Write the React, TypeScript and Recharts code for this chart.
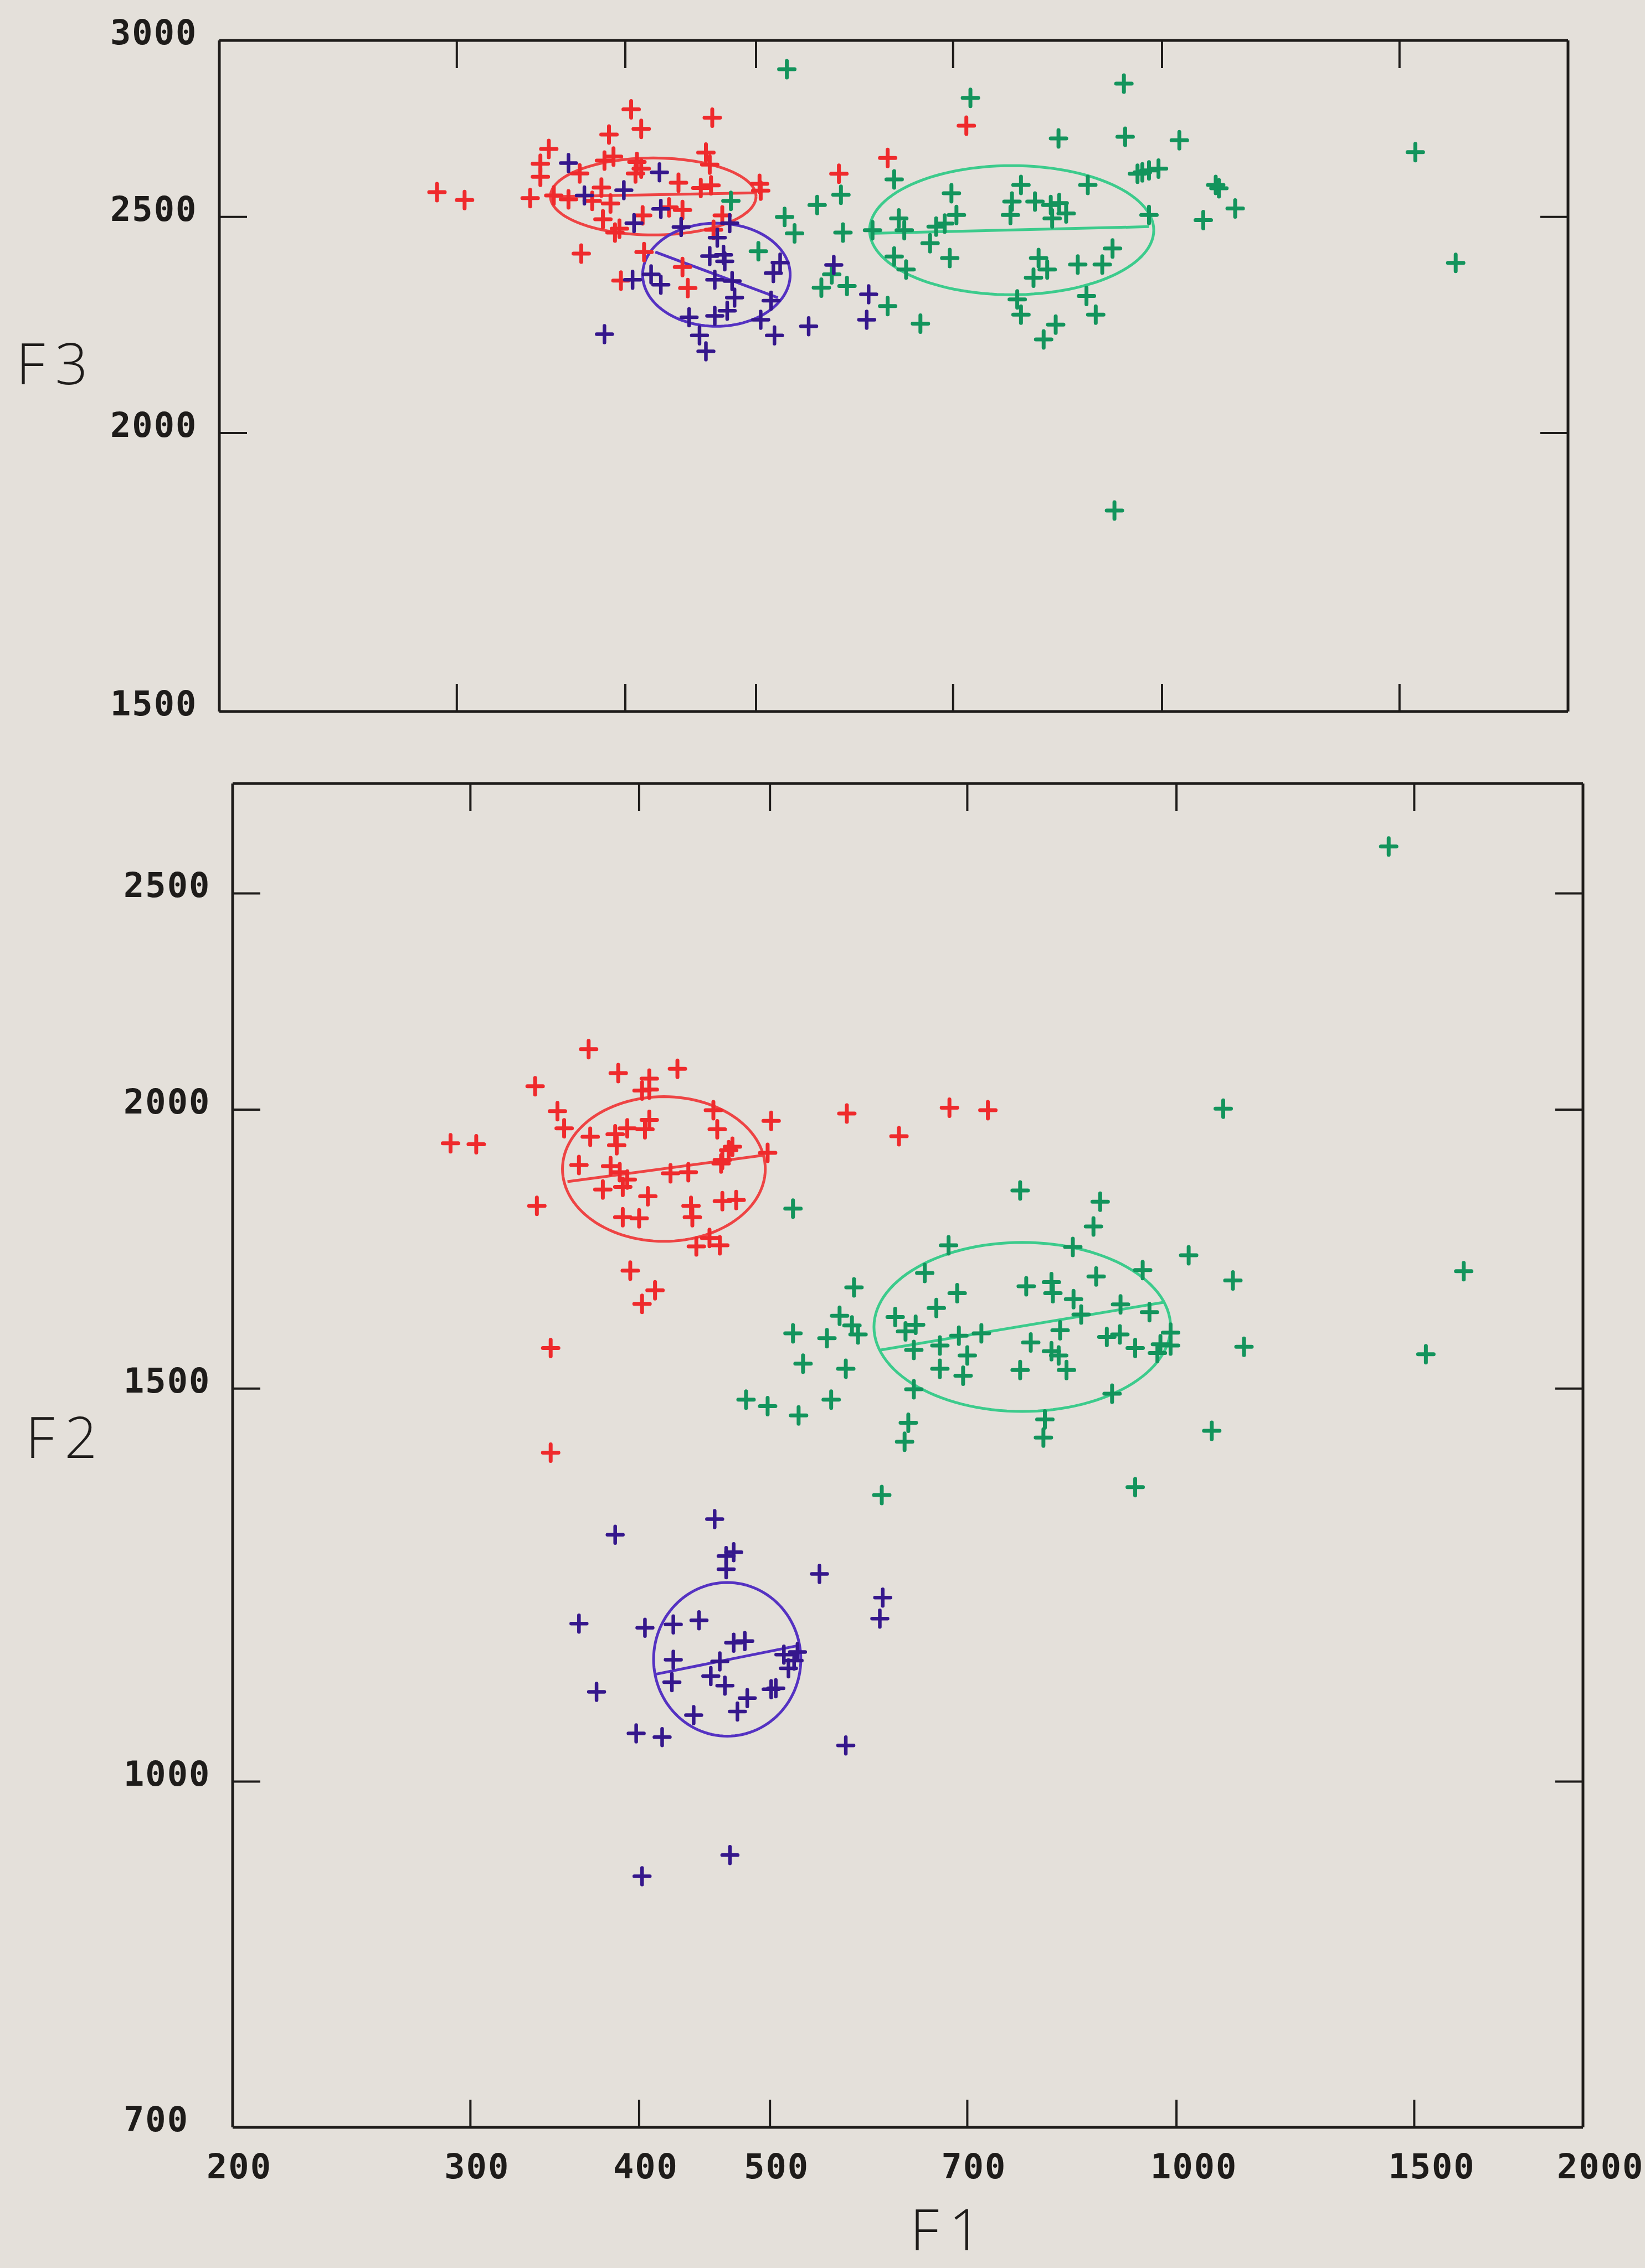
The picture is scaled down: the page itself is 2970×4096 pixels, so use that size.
import React from 'react'
import { ScatterChart, Scatter, XAxis, YAxis } from 'recharts'

type Pair = [number, number]

// F1 axis (shared by both panels)
const f1Domain: [number, number] = [200, 2000]
const f1Ticks = [200, 300, 400, 500, 700, 1000, 1500, 2000]

// top panel: F3
const f3Domain: [number, number] = [1500, 3000]
const f3Ticks = [1500, 2000, 2500, 3000]

// bottom panel: F2
const f2Domain: [number, number] = [700, 2800]
const f2Ticks = [700, 1000, 1500, 2000, 2500]

// [F1, F3]
const topRed: Pair[] = [
  [290, 2565], [304, 2544], [404, 2794], [411, 2738], [464, 2770], [389, 2722], [351, 2682], [346, 2641],
  [346, 2606], [340, 2549], [354, 2556], [363, 2546], [370, 2615], [386, 2650], [392, 2661], [408, 2646],
  [411, 2628], [407, 2615], [384, 2577], [378, 2542], [390, 2535], [385, 2494], [396, 2470], [393, 2460],
  [412, 2504], [431, 2525], [441, 2518], [438, 2590], [455, 2576], [463, 2583], [459, 2672], [462, 2639],
  [503, 2587], [504, 2569], [472, 2504], [371, 2407], [413, 2411], [397, 2341], [441, 2374], [445, 2323],
  [576, 2614], [626, 2657], [716, 2747], [465, 2467],
]
const topBlue: Pair[] = [
  [363, 2643], [424, 2618], [399, 2570], [373, 2556], [425, 2521], [406, 2484], [440, 2474], [478, 2484],
  [468, 2447], [462, 2401], [473, 2404], [474, 2388], [418, 2356], [425, 2331], [405, 2343], [466, 2343],
  [480, 2340], [521, 2385], [515, 2359], [482, 2300], [476, 2269], [513, 2293], [466, 2257], [446, 2254],
  [504, 2248], [454, 2212], [459, 2176], [516, 2212], [547, 2233], [386, 2215], [606, 2308], [604, 2248],
  [571, 2379],
]
const topGreen: Pair[] = [
  [527, 2912], [721, 2827], [937, 2869], [838, 2711], [939, 2716], [1030, 2706], [633, 2599], [578, 2558],
  [555, 2531], [525, 2500], [534, 2458], [580, 2460], [610, 2466], [638, 2496], [644, 2466], [680, 2475],
  [690, 2483], [704, 2505], [698, 2562], [673, 2433], [696, 2396], [633, 2400], [646, 2368], [569, 2356],
  [559, 2324], [584, 2328], [626, 2280], [662, 2239], [786, 2584], [774, 2540], [772, 2505], [805, 2540],
  [827, 2531], [849, 2509], [829, 2496], [881, 2584], [978, 2505], [959, 2614], [994, 2628], [1102, 2575],
  [1133, 2522], [1073, 2492], [810, 2396], [822, 2368], [803, 2348], [866, 2380], [903, 2380], [919, 2420],
  [781, 2296], [786, 2260], [879, 2304], [893, 2260], [834, 2237], [817, 2203], [922, 1846], [967, 2618],
  [1096, 2584], [479, 2542], [502, 2413], [1541, 2673], [1651, 2384], [978, 2623], [839, 2536],
]

// [F1, F2]
const botRed: Pair[] = [
  [367, 2129], [386, 2077], [427, 2086], [335, 2049], [407, 2065], [402, 2040], [407, 2042], [348, 1997],
  [352, 1962], [368, 1945], [384, 1950], [385, 1928], [392, 1962], [404, 1960], [407, 1979], [454, 1999],
  [457, 1960], [501, 1977], [466, 1918], [498, 1913], [460, 1892], [361, 1889], [381, 1887], [387, 1875],
  [392, 1861], [389, 1847], [376, 1842], [422, 1873], [435, 1875], [406, 1829], [437, 1811], [438, 1790],
  [461, 1820], [472, 1822], [389, 1790], [400, 1788], [441, 1737], [451, 1752], [459, 1739], [336, 1811],
  [394, 1694], [411, 1660], [402, 1637], [344, 1564], [570, 1992], [469, 1925], [461, 1899], [623, 1946],
  [679, 2004], [725, 1999], [290, 1932], [303, 1930], [344, 1404],
]
const botBlue: Pair[] = [
  [455, 1311], [384, 1290], [470, 1267], [464, 1262], [464, 1245], [544, 1239], [606, 1209], [603, 1183],
  [361, 1177], [404, 1172], [424, 1176], [443, 1181], [470, 1154], [479, 1156], [424, 1134], [459, 1132],
  [512, 1140], [521, 1133], [516, 1124], [423, 1108], [452, 1115], [463, 1104], [501, 1100], [481, 1090],
  [473, 1075], [439, 1071], [372, 1097], [398, 1051], [416, 1047], [569, 1038], [467, 927], [402, 907],
  [524, 1143], [505, 1101],
]
const botGreen: Pair[] = [
  [766, 1840], [878, 1819], [868, 1773], [520, 1806], [678, 1739], [838, 1736], [1021, 1721], [944, 1695],
  [1101, 1677], [651, 1690], [872, 1684], [577, 1665], [774, 1667], [808, 1674], [810, 1655], [688, 1655],
  [839, 1645], [664, 1630], [909, 1636], [850, 1619], [955, 1623], [619, 1615], [563, 1617], [575, 1601],
  [581, 1586], [630, 1591], [641, 1602], [690, 1584], [717, 1588], [820, 1593], [990, 1589], [888, 1582],
  [908, 1586], [520, 1588], [551, 1580], [639, 1561], [668, 1568], [780, 1573], [973, 1570], [932, 1564],
  [990, 1568], [808, 1559], [818, 1552], [968, 1556], [700, 1552], [529, 1539], [569, 1531], [668, 1531],
  [695, 1520], [766, 1529], [829, 1529], [1122, 1566], [639, 1499], [896, 1492], [480, 1483], [498, 1473],
  [555, 1483], [525, 1459], [633, 1448], [629, 1420], [799, 1453], [797, 1426], [1062, 1436], [932, 1355],
  [605, 1344], [1083, 2002], [1436, 2624], [1632, 1693], [1530, 1554],
]

// ellipse extents: [F1 min, F1 max], [Fy min, Fy max]
const topRedEllipse = { f1: [352, 500], fy: [2454, 2657] }
const topBlueEllipse = { f1: [412, 530], fy: [2233, 2484] }
const topGreenEllipse = { f1: [607, 986], fy: [2307, 2636] }
const botRedEllipse = { f1: [351, 496], fy: [1746, 2027] }
const botBlueEllipse = { f1: [410, 527], fy: [1048, 1228] }
const botGreenEllipse = { f1: [597, 990], fy: [1465, 1744] }

// diameter drawn across each ellipse
const topRedAxis: Pair[] = [[352, 2553], [500, 2563]]
const topBlueAxis: Pair[] = [[421, 2411], [519, 2300]]
const topGreenAxis: Pair[] = [[607, 2458], [978, 2475]]
const botRedAxis: Pair[] = [[354, 1857], [494, 1908]]
const botBlueAxis: Pair[] = [[411, 1117], [526, 1151]]
const botGreenAxis: Pair[] = [[604, 1561], [981, 1640]]

const PAPER = '#e4e0da'
const INK = '#1e1c1a'
const RED = '#ef2a2c'
const BLUE = '#35178c'
const GREEN = '#13945c'
const RED_E = '#ee4444'
const BLUE_E = '#5532c2'
const GREEN_E = '#3ccb8c'
const TICK_LEN = 50

const labelStyle: React.CSSProperties = {
  fontFamily: "'DejaVu Sans Mono', monospace",
  fontWeight: 700,
  fontSize: 62,
  letterSpacing: 2,
  fill: INK,
}
const titleStyle: React.CSSProperties = {
  fontFamily: "'Open Sans', 'DejaVu Sans', sans-serif",
  fontWeight: 300,
  fontSize: 104,
  letterSpacing: 18,
  fill: INK,
}

const toPts = (arr: Pair[]) => arr.map(([x, y]) => ({ x, y }))

// outline of an ellipse in log-log space, from its extents
function outline(e: { f1: number[]; fy: number[] }) {
  const a0 = Math.log10(e.f1[0]), a1 = Math.log10(e.f1[1])
  const b0 = Math.log10(e.fy[0]), b1 = Math.log10(e.fy[1])
  const pts = []
  for (let i = 0; i <= 120; i++) {
    const t = (i / 120) * Math.PI * 2
    pts.push({
      x: Math.pow(10, (a0 + a1) / 2 + ((a1 - a0) / 2) * Math.cos(t)),
      y: Math.pow(10, (b0 + b1) / 2 + ((b1 - b0) / 2) * Math.sin(t)),
    })
  }
  return pts
}

const cross = (color: string, w: number) => (p: any) => {
  const { cx, cy } = p
  if (cx == null || cy == null) return <g />
  return (
    <path
      d={`M${cx - 14},${cy}H${cx + 14}M${cx},${cy - 15}V${cy + 15}`}
      stroke={color}
      strokeWidth={w}
      strokeLinecap="round"
      fill="none"
    />
  )
}
const noDot = () => <g />

const isInner = (v: number, d: [number, number]) => v > d[0] && v < d[1]

const xTick = (side: 'top' | 'bottom', labels: boolean) => (p: any) => {
  const { x, y, payload } = p
  const v = payload.value
  const dir = side === 'bottom' ? -1 : 1
  return (
    <g>
      {isInner(v, f1Domain) && (
        <line x1={x} x2={x} y1={y} y2={y + dir * TICK_LEN} stroke={INK} strokeWidth={4} />
      )}
      {labels && (
        <text x={x - 47} y={y + 92} style={labelStyle}>
          {v}
        </text>
      )}
    </g>
  )
}

const yTick = (side: 'left' | 'right', domain: [number, number]) => (p: any) => {
  const { x, y, payload } = p
  const v = payload.value
  const dir = side === 'left' ? 1 : -1
  return (
    <g>
      {isInner(v, domain) && (
        <line x1={x} x2={x + dir * TICK_LEN} y1={y} y2={y} stroke={INK} strokeWidth={4} />
      )}
      {side === 'left' && (
        <text x={x - 197} y={y + 7} style={labelStyle}>
          {v}
        </text>
      )}
    </g>
  )
}

const title = (text: string, dx: number, dy: number) => (p: any) => {
  const vb = p.viewBox || { x: 0, y: 0 }
  return (
    <text x={vb.x + dx} y={vb.y + dy} style={titleStyle}>
      {text}
    </text>
  )
}

interface EllipseSpec {
  shape: { f1: number[]; fy: number[] }
  axis: Pair[]
  color: string
}

interface PanelProps {
  height: number
  band: { top: number; bottom: number; left: number; right: number }
  yDomain: [number, number]
  yTicks: number[]
  red: Pair[]
  blue: Pair[]
  green: Pair[]
  ellipses: EllipseSpec[]
  xLabels: boolean
  yTitle: { text: string; dx: number; dy: number }
  xTitle?: { text: string; dx: number; dy: number }
}

function Panel({ height, band, yDomain, yTicks, red, blue, green, ellipses, xLabels, yTitle, xTitle }: PanelProps) {
  const axisLine = { stroke: INK, strokeWidth: 5 }
  return (
    <ScatterChart width={2970} height={height} margin={{ top: 0, right: 0, bottom: 0, left: 0 }}>
      <XAxis
        xAxisId="b"
        dataKey="x"
        type="number"
        scale="log"
        domain={f1Domain}
        ticks={f1Ticks}
        allowDataOverflow
        interval={0}
        orientation="bottom"
        height={band.bottom}
        tickSize={0}
        tickMargin={0}
        tickLine={false}
        axisLine={axisLine}
        tick={xTick('bottom', xLabels)}
        label={xTitle ? { content: title(xTitle.text, xTitle.dx, xTitle.dy) } : undefined}
      />
      <XAxis
        xAxisId="t"
        dataKey="x"
        type="number"
        scale="log"
        domain={f1Domain}
        ticks={f1Ticks}
        allowDataOverflow
        interval={0}
        orientation="top"
        height={band.top}
        tickSize={0}
        tickMargin={0}
        tickLine={false}
        axisLine={axisLine}
        tick={xTick('top', false)}
      />
      <YAxis
        yAxisId="l"
        dataKey="y"
        type="number"
        scale="log"
        domain={yDomain}
        ticks={yTicks}
        allowDataOverflow
        interval={0}
        orientation="left"
        width={band.left}
        tickSize={0}
        tickMargin={0}
        tickLine={false}
        axisLine={axisLine}
        tick={yTick('left', yDomain)}
        label={{ content: title(yTitle.text, yTitle.dx, yTitle.dy) }}
      />
      <YAxis
        yAxisId="r"
        dataKey="y"
        type="number"
        scale="log"
        domain={yDomain}
        ticks={yTicks}
        allowDataOverflow
        interval={0}
        orientation="right"
        width={band.right}
        tickSize={0}
        tickMargin={0}
        tickLine={false}
        axisLine={axisLine}
        tick={yTick('right', yDomain)}
      />
      {/* keeps the mirror axes bound to a series */}
      <Scatter xAxisId="t" yAxisId="r" data={toPts(red)} shape={noDot} isAnimationActive={false} />

      {ellipses.map((e, i) => (
        <Scatter
          key={`e${i}`}
          xAxisId="b"
          yAxisId="l"
          data={outline(e.shape)}
          line={{ stroke: e.color, strokeWidth: 5 }}
          shape={noDot}
          isAnimationActive={false}
        />
      ))}
      {ellipses.map((e, i) => (
        <Scatter
          key={`a${i}`}
          xAxisId="b"
          yAxisId="l"
          data={toPts(e.axis)}
          line={{ stroke: e.color, strokeWidth: 5 }}
          shape={noDot}
          isAnimationActive={false}
        />
      ))}
      <Scatter xAxisId="b" yAxisId="l" data={toPts(green)} shape={cross(GREEN, 7)} isAnimationActive={false} />
      <Scatter xAxisId="b" yAxisId="l" data={toPts(red)} shape={cross(RED, 7)} isAnimationActive={false} />
      <Scatter xAxisId="b" yAxisId="l" data={toPts(blue)} shape={cross(BLUE, 6.5)} isAnimationActive={false} />
    </ScatterChart>
  )
}

export default function App() {
  return (
    <div
      style={{
        position: 'absolute',
        left: 0,
        top: 0,
        width: 2970,
        height: 4096,
        background: PAPER,
        overflow: 'hidden',
      }}
    >
      <div style={{ position: 'absolute', left: 0, top: 0 }}>
        <Panel
          height={1380}
          band={{ top: 73, bottom: 95, left: 396, right: 139 }}
          yDomain={f3Domain}
          yTicks={f3Ticks}
          red={topRed}
          blue={topBlue}
          green={topGreen}
          ellipses={[
            { shape: topRedEllipse, axis: topRedAxis, color: RED_E },
            { shape: topBlueEllipse, axis: topBlueAxis, color: BLUE_E },
            { shape: topGreenEllipse, axis: topGreenAxis, color: GREEN_E },
          ]}
          xLabels={false}
          yTitle={{ text: 'F3', dx: 29, dy: 621 }}
        />
      </div>
      <div style={{ position: 'absolute', left: 0, top: 1380 }}>
        <Panel
          height={2716}
          band={{ top: 35, bottom: 254, left: 420, right: 112 }}
          yDomain={f2Domain}
          yTicks={f2Ticks}
          red={botRed}
          blue={botBlue}
          green={botGreen}
          ellipses={[
            { shape: botRedEllipse, axis: botRedAxis, color: RED_E },
            { shape: botBlueEllipse, axis: botBlueAxis, color: BLUE_E },
            { shape: botGreenEllipse, axis: botGreenAxis, color: GREEN_E },
          ]}
          xLabels
          yTitle={{ text: 'F2', dx: 46, dy: 1218 }}
          xTitle={{ text: 'F1', dx: 1223, dy: 222 }}
        />
      </div>
    </div>
  )
}
